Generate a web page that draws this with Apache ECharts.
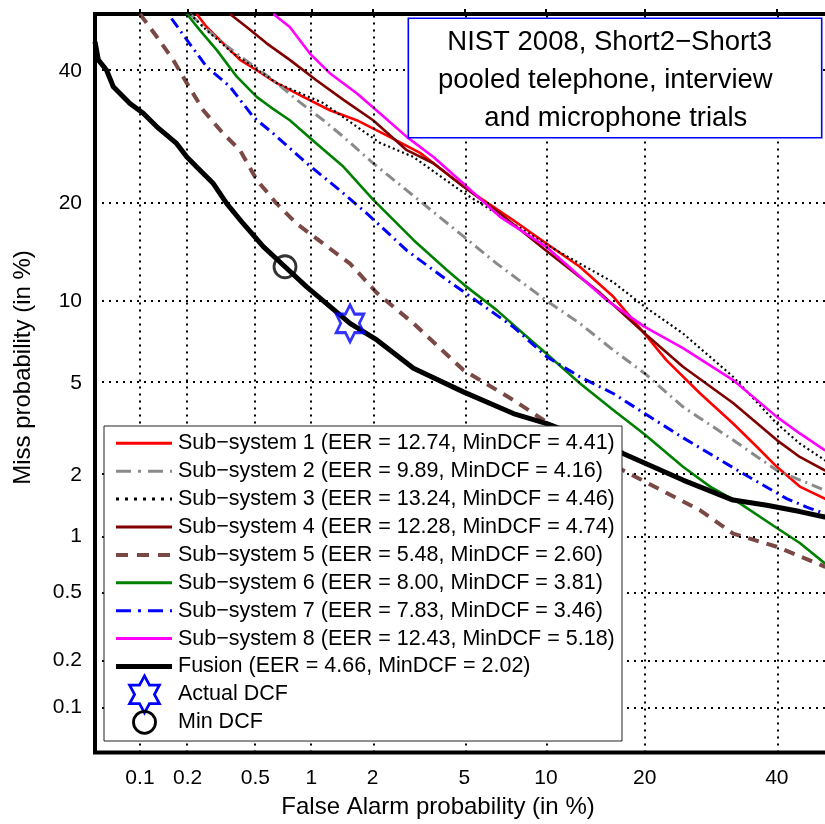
<!DOCTYPE html>
<html><head><meta charset="utf-8">
<script src="https://cdn.jsdelivr.net/npm/echarts@6/dist/echarts.min.js"></script>
<style>html,body{margin:0;padding:0;background:#fff}#c{width:825px;height:824px}</style>
</head><body><div id="c"></div><script>
// ---------- data (percent values: [False Alarm %, Miss %]) ----------
const tickValues = [0.1, 0.2, 0.5, 1, 2, 5, 10, 20, 40];
const tickLabels = ['0.1', '0.2', '0.5', '1', '2', '5', '10', '20', '40'];
const axisRange = [0.05, 50];

const seriesNames = [
  'Sub\u2212system 1 (EER = 12.74, MinDCF = 4.41)',
  'Sub\u2212system 2 (EER = 9.89, MinDCF = 4.16)',
  'Sub\u2212system 3 (EER = 13.24, MinDCF = 4.46)',
  'Sub\u2212system 4 (EER = 12.28, MinDCF = 4.74)',
  'Sub\u2212system 5 (EER = 5.48, MinDCF = 2.60)',
  'Sub\u2212system 6 (EER = 8.00, MinDCF = 3.81)',
  'Sub\u2212system 7 (EER = 7.83, MinDCF = 3.46)',
  'Sub\u2212system 8 (EER = 12.43, MinDCF = 5.18)',
  'Fusion (EER = 4.66, MinDCF = 2.02)'
];
const markerNames = ['Actual DCF', 'Min DCF'];

const sub1 = [[0.227,50],[0.261,47.7],[0.327,44.8],[0.409,41.9],[0.508,40.1],[0.655,37.9],[0.907,35.6],[1.24,33.4],[1.68,31.8],[2.24,29.7],[3.27,26.8],[4.95,22.1],[7.68,17.9],[10.06,15.3],[12.9,13.0],[16.3,10.4],[20,7.7],[22.8,6.15],[27.6,4.54],[32.7,3.40],[36.6,2.69],[40,2.18],[44,1.76],[48.4,1.54],[50,1.5]];
const sub2 = [[0.207,50],[0.238,48.3],[0.327,44.8],[0.466,41.3],[0.628,38.4],[0.838,35.1],[1.15,31.8],[1.45,29.2],[2.01,25.3],[2.86,21.6],[5,16.0],[6.67,13.3],[10,10.1],[12.9,8.4],[16.3,6.71],[20,5.46],[25.1,4.0],[32.7,2.88],[40,2.10],[48.4,1.69],[50,1.65]];
const sub3 = [[0.207,50],[0.261,47.1],[0.372,43.1],[0.657,37.9],[1.145,34.6],[2.16,28.3],[3.06,26.2],[5,21.2],[10.06,15.2],[12.9,13.3],[16.3,11.6],[20,9.6],[25.1,7.73],[32.7,5.30],[40,3.40],[44,2.78],[48.4,2.34],[50,2.25]];
const sub4 = [[0.358,50],[0.446,47.7],[0.577,44.8],[0.77,41.9],[1.06,38.4],[1.45,35.1],[2.01,31.8],[2.86,27.2],[3.73,25.3],[4.95,22.1],[6.86,18.7],[10,14.6],[14.9,10.7],[20,7.73],[25.1,5.8],[32.7,4.15],[40,2.88],[44,2.42],[48.4,2.10],[50,2.05]];
const sub5 = [[0.1,50],[0.128,46.0],[0.163,41.9],[0.198,37.9],[0.249,33.4],[0.327,29.7],[0.409,27.2],[0.508,23.0],[0.655,19.9],[0.838,17.5],[1.15,15.3],[1.56,13.3],[2.09,10.7],[3.06,8.4],[4.95,5.63],[7.68,4.27],[9.8,3.52],[17.4,2.10],[27.6,1.35],[32.7,1.03],[40,0.88],[48.4,0.69],[50,0.67]];
const sub6 = [[0.198,50],[0.238,47.1],[0.30,43.6],[0.392,39.0],[0.508,35.6],[0.60,34.0],[0.77,31.8],[1.06,28.2],[1.45,24.8],[2.01,20.4],[3.06,15.7],[4.24,12.7],[5,11.35],[6.67,9.35],[8.33,7.73],[10,6.53],[12.9,4.99],[16.3,3.88],[20,3.05],[25.1,2.18],[29.1,1.76],[33.8,1.46],[40,1.10],[44,0.92],[48.4,0.72],[50,0.68]];
const sub7 = [[0.159,49.2],[0.198,45.4],[0.261,40.7],[0.358,37.3],[0.487,32.3],[0.628,29.7],[0.945,25.3],[1.39,21.6],[1.88,18.7],[2.86,14.6],[4.24,11.8],[5.76,9.86],[7.68,8.16],[10.06,6.33],[12.9,5.30],[16.3,4.54],[20,3.75],[25.1,2.95],[33.8,2.07],[41.7,1.54],[45.2,1.40],[48.4,1.30],[50,1.27]];
const sub8 = [[0.628,50],[0.77,47.7],[0.982,43.0],[1.24,39.6],[1.68,36.2],[2.16,32.9],[2.86,29.2],[3.73,26.2],[4.95,22.5],[6.86,18.3],[10,15.0],[15.6,10.1],[20,8.16],[25.1,6.82],[32.7,5.14],[40,3.63],[44,3.08],[48.4,2.60],[50,2.5]];
const fusion = [[0.050,45.1],[0.0527,41.9],[0.060,40.1],[0.0666,37.3],[0.086,34.5],[0.105,32.9],[0.128,30.8],[0.171,28.2],[0.198,26.2],[0.238,24.3],[0.286,22.5],[0.343,19.9],[0.427,17.5],[0.553,15.0],[0.726,13.0],[0.945,11.2],[1.56,8.4],[2.10,7.3],[3.06,5.72],[4.95,4.61],[7.68,3.75],[10.06,3.40],[13.4,2.94],[17.4,2.51],[25.1,1.89],[32.7,1.515],[38.3,1.43],[44.0,1.33],[48.4,1.25],[50,1.23]];
const actualDCF = [[1.56, 8.4]];
const minDCF = [[0.726, 13.0]];
const titleLines = ['NIST 2008, Short2\u2212Short3', 'pooled telephone, interview', 'and microphone trials'];
const xTitle = 'False Alarm probability (in %)';
const yTitle = 'Miss probability (in %)';

// ---------- normal deviate scale ----------
function probit(p) {
  const a=[-3.969683028665376e+01,2.209460984245205e+02,-2.759285104469687e+02,1.383577518672690e+02,-3.066479806614716e+01,2.506628277459239e+00];
  const b=[-5.447609879822406e+01,1.615858368580409e+02,-1.556989798598866e+02,6.680131188771972e+01,-1.328068155288572e+01];
  const c=[-7.784894002430293e-03,-3.223964580411365e-01,-2.400758277161838e+00,-2.549671058254516e+00,4.374664141464968e+00,2.938163982698783e+00];
  const d=[7.784695709041462e-03,3.224671290700398e-01,2.445134137142996e+00,3.754408661907416e+00];
  const plow=0.02425, phigh=1-plow; let q,r;
  if (p<plow){q=Math.sqrt(-2*Math.log(p));return (((((c[0]*q+c[1])*q+c[2])*q+c[3])*q+c[4])*q+c[5])/((((d[0]*q+d[1])*q+d[2])*q+d[3])*q+1);}
  if (p<=phigh){q=p-0.5;r=q*q;return (((((a[0]*r+a[1])*r+a[2])*r+a[3])*r+a[4])*r+a[5])*q/(((((b[0]*r+b[1])*r+b[2])*r+b[3])*r+b[4])*r+1);}
  q=Math.sqrt(-2*Math.log(1-p));return -(((((c[0]*q+c[1])*q+c[2])*q+c[3])*q+c[4])*q+c[5])/((((d[0]*q+d[1])*q+d[2])*q+d[3])*q+1);
}
const toZ = pct => probit(pct / 100);
const tickZ = tickValues.map(toZ);
const zMin = toZ(axisRange[0]), zMax = toZ(axisRange[1]);
const fmt = v => { for (let i = 0; i < tickZ.length; i++) if (Math.abs(v - tickZ[i]) < 1e-6) return tickLabels[i]; return ''; };
const conv = arr => arr.map(p => [toZ(p[0]), toZ(p[1])]);

const FONT = '"Liberation Sans", Arial, Helvetica, sans-serif';
const styles = [
  {color:'#ff0000', width:2.6, type:'solid'},
  {color:'#8a8a8a', width:3, type:[11,5,2,5]},
  {color:'#000000', width:2.2, type:[2,3]},
  {color:'#800000', width:2.6, type:'solid'},
  {color:'#7b4945', width:4, type:[11,8]},
  {color:'#008000', width:2.6, type:'solid'},
  {color:'#0000ff', width:3, type:[11,5,2,5]},
  {color:'#ff00ff', width:2.6, type:'solid'},
  {color:'#000000', width:5, type:'solid'}
];
const legendDash = [null, [15,7,3,7], [3,6], null, [12,9], null, [15,7,3,7], null, null];
const allData = [sub1, sub2, sub3, sub4, sub5, sub6, sub7, sub8, fusion];

const chart = echarts.init(document.getElementById('c'), null, {renderer:'canvas'});

const series = [{
  type:'line', data:[], silent:true, z:1,
  markLine:{silent:true, symbol:['none','none'], animation:false, label:{show:false},
    lineStyle:{color:'#000', width:2, type:[2,5]},
    data: tickZ.map(v => ({xAxis:v})).concat(tickZ.map(v => ({yAxis:v})))}
}];
allData.forEach((d, i) => series.push({
  type:'line', name:seriesNames[i], data:conv(d), showSymbol:false, symbol:'none',
  animation:false, clip:true, z:3,
  lineStyle:{color:styles[i].color, width:styles[i].width, type:styles[i].type, cap:'butt', join:'round'}
}));
const starPath = 'path://M0,-10 L2.887,-5 L8.66,-5 L5.774,0 L8.66,5 L2.887,5 L0,10 L-2.887,5 L-8.66,5 L-5.774,0 L-8.66,-5 L-2.887,-5 Z';
series.push({type:'scatter', name:markerNames[0], data:conv(actualDCF), symbol:starPath, symbolKeepAspect:true,
  symbolSize:[32,37], z:4, animation:false,
  itemStyle:{color:'rgba(0,0,0,0)', borderColor:'#0000ff', borderWidth:2.8}});
series.push({type:'scatter', name:markerNames[1], data:conv(minDCF), symbol:'circle', symbolSize:22, z:4, animation:false,
  itemStyle:{color:'rgba(0,0,0,0)', borderColor:'#000', borderWidth:2.8}});

// ---------- graphic: legend box, title box, axis titles ----------
const graphics = [];
const LX = 104, LY = 426, LW = 518, LH = 315;
graphics.push({type:'rect', z:100, shape:{x:LX, y:LY, width:LW, height:LH}, style:{fill:'#fff', stroke:'#222', lineWidth:1}});
const rowY = i => 443.3 + i * 27.9;
seriesNames.forEach((n, i) => {
  const st = styles[i];
  graphics.push({type:'line', z:101, shape:{x1:116, y1:rowY(i), x2:172, y2:rowY(i)},
    style:{stroke:st.color, lineWidth:Math.max(st.width, 3), lineDash: legendDash[i], lineCap:'butt'}});
  graphics.push({type:'text', z:101, style:{text:n, x:178, y:rowY(i), font:'21.5px ' + FONT, fill:'#000',
    textAlign:'left', align:'left', textVerticalAlign:'middle', verticalAlign:'middle'}});
});
(function(){
  const cx = 144.5, cy = rowY(9), R = 18.5;
  const pts = [];
  for (let k = 0; k < 12; k++) {
    const ang = -Math.PI/2 + k * Math.PI/6;
    const rr = (k % 2 === 0) ? R : R / Math.sqrt(3);
    pts.push([cx + rr * Math.cos(ang) * 0.93, cy + rr * Math.sin(ang)]);
  }
  graphics.push({type:'polygon', z:101, shape:{points:pts}, style:{fill:null, stroke:'#0000ff', lineWidth:2.8}});
  graphics.push({type:'circle', z:101, shape:{cx:144.5, cy:rowY(10), r:11}, style:{fill:null, stroke:'#000', lineWidth:2.8}});
})();
markerNames.forEach((n, j) => {
  graphics.push({type:'text', z:101, style:{text:n, x:178, y:rowY(9 + j), font:'21.5px ' + FONT, fill:'#000',
    textAlign:'left', align:'left', textVerticalAlign:'middle', verticalAlign:'middle'}});
});
graphics.push({type:'rect', z:100, shape:{x:408.3, y:18.3, width:413.4, height:119.4}, style:{fill:'#fff', stroke:'#0000ff', lineWidth:1.6}});
const tlx = [609.7, 605.3, 615.8], tly = [42.1, 80.4, 118.7];
titleLines.forEach((t, i) => graphics.push({type:'text', z:101, style:{text:t, x:tlx[i], y:tly[i], font:'27.5px ' + FONT, fill:'#000',
  textAlign:'center', align:'center', textVerticalAlign:'middle', verticalAlign:'middle'}}));
graphics.push({type:'text', z:101, style:{text:xTitle, x:438, y:807, font:'24px ' + FONT, fill:'#000',
  textAlign:'center', align:'center', textVerticalAlign:'middle', verticalAlign:'middle'}});
graphics.push({type:'text', z:101, x:23, y:367.5, rotation:Math.PI/2, style:{text:yTitle, x:0, y:0, font:'24px ' + FONT, fill:'#000',
  textAlign:'center', align:'center', textVerticalAlign:'middle', verticalAlign:'middle'}});

const axisCommon = {
  type:'value', min:zMin, max:zMax,
  axisLine:{show:false},
  axisTick:{show:true, inside:true, length:5, customValues:tickZ, lineStyle:{color:'#000', width:2}},
  axisLabel:{show:true, customValues:tickZ, formatter:fmt, color:'#000', fontSize:21, fontFamily:FONT, margin:14, hideOverlap:false},
  splitLine:{show:false}
};

chart.setOption({
  backgroundColor:'#fff',
  animation:false,
  grid:{left:95, top:14, width:738.7, height:738.4, show:true, borderColor:'#000', borderWidth:4,
        containLabel:false, outerBoundsMode:'none'},
  xAxis:Object.assign({}, axisCommon, {axisLabel:Object.assign({}, axisCommon.axisLabel, {margin:15})}),
  yAxis:Object.assign({}, axisCommon, {axisLabel:Object.assign({}, axisCommon.axisLabel, {margin:13})}),
  series:series,
  graphic:{elements:graphics}
});
</script></body></html>
